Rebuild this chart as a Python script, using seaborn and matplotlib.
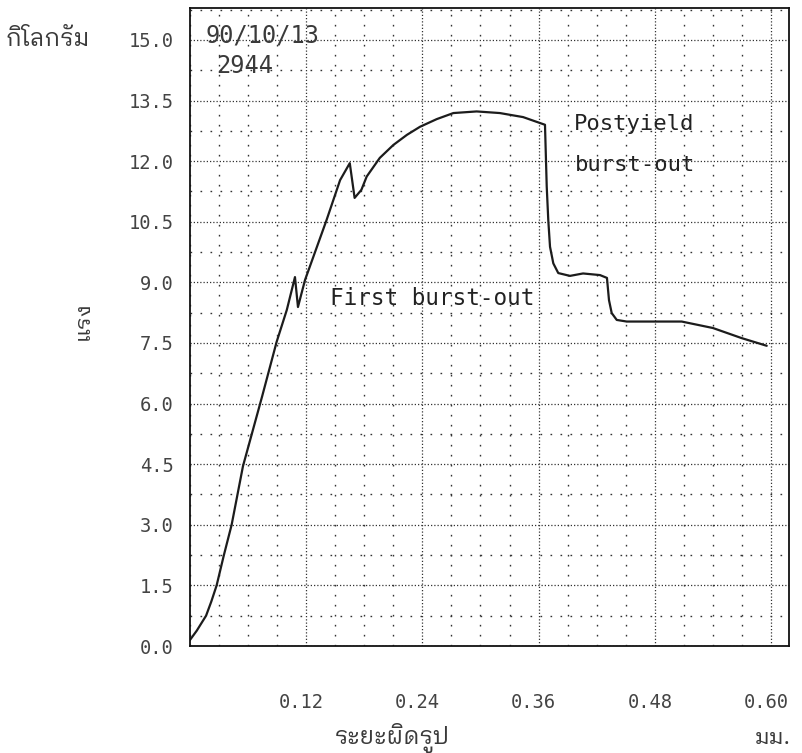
import matplotlib
matplotlib.use("Agg")
import matplotlib.pyplot as plt
import matplotlib.transforms as mtrans
import seaborn as sns
from matplotlib.ticker import FixedLocator, MultipleLocator
from matplotlib import font_manager as fm
from matplotlib.ft2font import FT2Font

# ---------------- data ----------------
deformation_mm = [0.000, 0.007, 0.0166, 0.022, 0.0275, 0.035, 0.043, 0.0547,
                  0.0744, 0.0895, 0.100, 0.1084, 0.1115, 0.1188, 0.141, 0.155,
                  0.165, 0.170, 0.177, 0.1825, 0.196, 0.210, 0.224, 0.2375,
                  0.2548, 0.272, 0.296, 0.320, 0.344, 0.3666, 0.3684, 0.370,
                  0.3718, 0.3752, 0.3803, 0.3924, 0.4059, 0.4234, 0.4306, 0.4327,
                  0.4355, 0.4407, 0.451, 0.5078, 0.540, 0.5697, 0.5956]
force_kg = [0.15, 0.38, 0.75, 1.10, 1.50, 2.25, 3.00, 4.45,
            6.17, 7.53, 8.32, 9.13, 8.39, 9.06, 10.54, 11.53,
            11.95, 11.09, 11.29, 11.62, 12.08, 12.40, 12.65, 12.85,
            13.04, 13.19, 13.23, 13.19, 13.09, 12.90, 11.37, 10.54,
            9.88, 9.47, 9.23, 9.16, 9.22, 9.18, 9.11, 8.56,
            8.24, 8.07, 8.03, 8.03, 7.87, 7.62, 7.43]

x_tick_values = [0.12, 0.24, 0.36, 0.48, 0.60]
x_tick_labels = ["0.12", "0.24", "0.36", "0.48", "0.60"]
y_tick_values = [0.0, 1.5, 3.0, 4.5, 6.0, 7.5, 9.0, 10.5, 12.0, 13.5, 15.0]
y_tick_labels = ["0.0", "1.5", "3.0", "4.5", "6.0", "7.5", "9.0", "10.5",
                 "12.0", "13.5", "15.0"]

y_unit = "กิโลกรัม"
y_title = "แรง"
x_title = "ระยะผิดรูป"
x_unit = "มม."
stamp_lines = ["90/10/13", "2944"]
note_first = "First burst-out"
note_post_lines = ["Postyield", "burst-out"]

# ---------------- fonts ----------------
thai_fams = []
for f in fm.fontManager.ttflist:
    try:
        cmap = FT2Font(f.fname).get_charmap()
        if ord("ก") in cmap and ord("ร") in cmap and ord("ิ") in cmap:
            if f.name not in thai_fams:
                thai_fams.append(f.name)
    except Exception:
        pass


def rank(name):
    n = name.lower()
    if "looped" in n:
        return 0
    if "mono" in n:
        return 1
    return 2


thai_fams.sort(key=rank)
thai_family = thai_fams[0] if thai_fams else None

sns.set_style("white")
mono = ["DejaVu Sans Mono"]
thai = [thai_family, "DejaVu Sans"] if thai_family else ["DejaVu Sans"]
plt.rcParams["font.family"] = mono

W, H = 803, 753
fig = plt.figure(figsize=(W / 100, H / 100), dpi=100)
fig.patch.set_facecolor("white")
ax = fig.add_axes([190 / W, 1 - 646 / H, (789 - 190) / W, (646 - 8) / H])
ax.set_facecolor("white")

sns.lineplot(x=deformation_mm, y=force_kg, sort=False, estimator=None,
             color="#1c1c1c", linewidth=1.6, ax=ax)

ax.set_xlim(0, 0.6186)
ax.set_ylim(0, 15.79)

ax.xaxis.set_major_locator(FixedLocator(x_tick_values))
ax.xaxis.set_minor_locator(MultipleLocator(0.03))
ax.yaxis.set_major_locator(FixedLocator(y_tick_values))
ax.yaxis.set_minor_locator(MultipleLocator(0.75))
ax.set_xticklabels(x_tick_labels)
ax.set_yticklabels(y_tick_labels)

ax.grid(which="major", linestyle=(0, (1, 1.6)), color="#333333", linewidth=0.9)
ax.grid(which="minor", linestyle=(0, (1.2, 6)), color="#333333", linewidth=1.0)
ax.set_axisbelow(True)

for s in ax.spines.values():
    s.set_color("#111111")
    s.set_linewidth(1.3)

ax.tick_params(axis="x", which="both", direction="out", length=3, width=0.9,
               color="#222222", pad=31, labelsize=13.5, labelcolor="#444444")
ax.tick_params(axis="y", which="both", direction="in", length=3, width=0.9,
               color="#222222", pad=12, labelsize=13.5, labelcolor="#444444")
shift = mtrans.ScaledTranslation(-5 / 100, 0, fig.dpi_scale_trans)
for lab in ax.get_xticklabels():
    lab.set_transform(lab.get_transform() + shift)
ax.set_xlabel("")
ax.set_ylabel("")

# stamps and notes
ax.text(0.0744, 15.1, stamp_lines[0], ha="center", va="center", fontsize=17,
        color="#3a3a3a", family=mono)
ax.text(0.0568, 14.36, stamp_lines[1], ha="center", va="center", fontsize=17,
        color="#3a3a3a", family=mono)
ax.text(0.1445, 8.6, note_first, ha="left", va="center", fontsize=16.3,
        color="#222222", family=mono)
ax.text(0.396, 12.92, note_post_lines[0], ha="left", va="center", fontsize=16,
        color="#222222", family=mono)
ax.text(0.397, 11.9, note_post_lines[1], ha="left", va="center", fontsize=16,
        color="#222222", family=mono)

# Thai labels
fig.text(6 / W, 1 - 40 / H, y_unit, ha="left", va="center", fontsize=17,
         color="#3a3a3a", family=thai)
fig.text(83 / W, 1 - 320 / H, y_title, ha="center", va="center", rotation=90,
         fontsize=16, color="#3a3a3a", family=thai)
fig.text(392 / W, 1 - 738 / H, x_title, ha="center", va="center", fontsize=17,
         color="#3a3a3a", family=thai)
fig.text(791 / W, 1 - 738 / H, x_unit, ha="right", va="center", fontsize=16,
         color="#3a3a3a", family=thai)

fig.savefig("out.png", dpi=100, facecolor="white")
